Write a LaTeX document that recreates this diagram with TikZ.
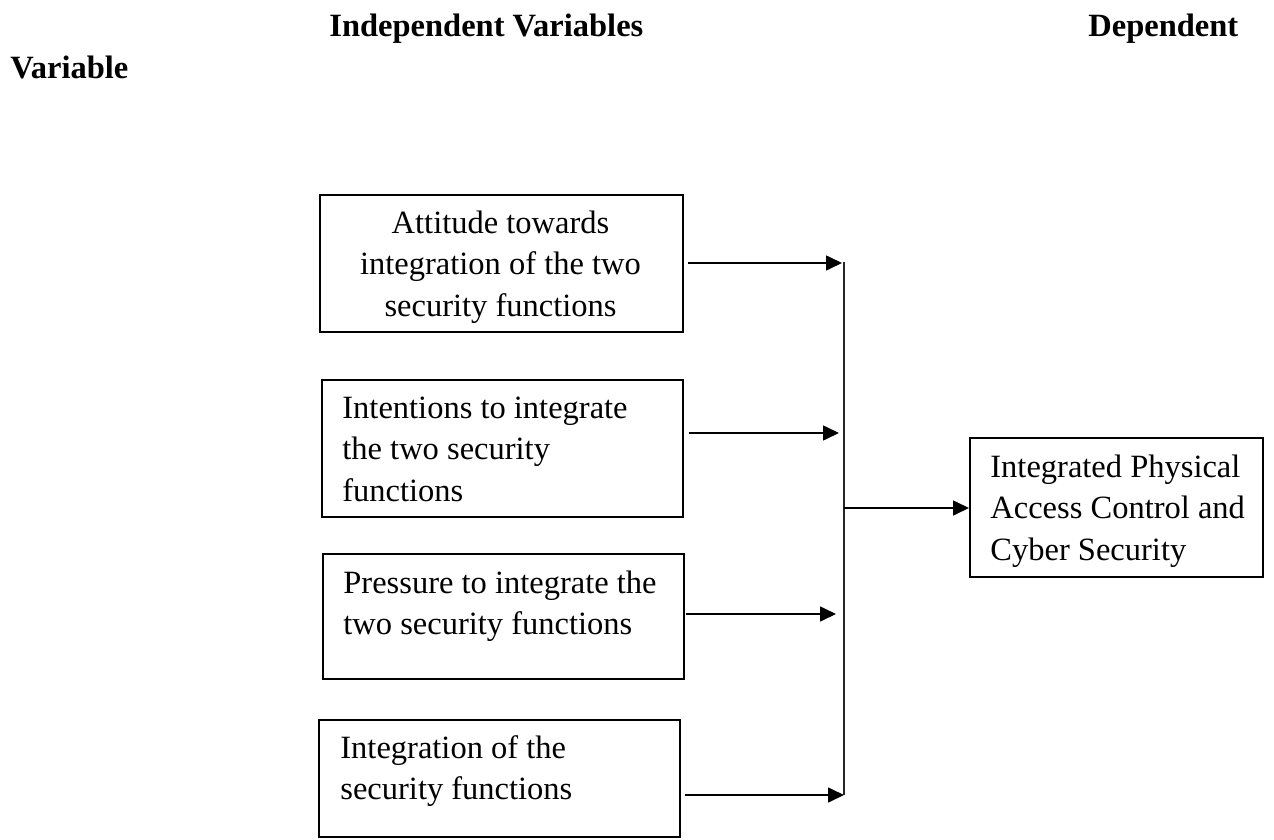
\documentclass[tikz,border=0pt]{standalone}
\usepackage{fontspec}
\setmainfont{Liberation Serif}
\usetikzlibrary{arrows.meta}
\begin{document}
\begin{tikzpicture}[x=0.5pt,y=-0.5pt,
  box/.style={draw=black, line width=0.75pt, rectangle, inner sep=0pt, anchor=north west},
  txt/.style={inner sep=0pt, font=\fontsize{16.25pt}{20.75pt}\selectfont},
  hdr/.style={inner sep=0pt, anchor=base west, font=\fontsize{16.25pt}{20.75pt}\selectfont\bfseries},
  arr/.style={line width=0.8pt, -{Triangle[length=8pt,width=7.5pt]}},
  bar/.style={line width=0.55pt, draw=black!85}]
\useasboundingbox (0,0) rectangle (1274,840);
% headers
\node[hdr] (h1) at (329,37) {Independent Variables};
\node[hdr] (h2) at (1088,37) {Dependent};
\node[hdr] (h3) at (10,79) {Variable};
% boxes
\node[box, minimum width=181.5pt, minimum height=68.5pt] (b1) at (319,194) {};
\node[box, minimum width=180.5pt, minimum height=68.5pt] (b2) at (321,379) {};
\node[box, minimum width=180.5pt, minimum height=62.5pt] (b3) at (322,553) {};
\node[box, minimum width=180.5pt, minimum height=58.5pt] (b4) at (318,719) {};
\node[box, minimum width=146.5pt, minimum height=69.5pt] (R) at (969,437) {};
% texts
\node[txt, anchor=base] (t1) at (500.5,233) {\parbox[t]{170pt}{\centering Attitude towards\\integration of the two\\security functions}};
\node[txt, anchor=base west] (t2) at (342,418) {\parbox[t]{165pt}{\raggedright Intentions to integrate\\the two security\\functions}};
\node[txt, anchor=base west] (t3) at (343,593) {\parbox[t]{165pt}{\raggedright Pressure to integrate the\\two security functions}};
\node[txt, anchor=base west] (t4) at (340,758) {\parbox[t]{165pt}{\raggedright Integration of the\\security functions}};
\node[txt, anchor=base west] (tR) at (990,477) {\parbox[t]{140pt}{\raggedright Integrated Physical\\Access Control and\\Cyber Security}};
% connectors
\coordinate (vt) at (844,262);
\coordinate (vb) at (844,795);
\coordinate (p1) at (842,263);
\coordinate (p2) at (839,433);
\coordinate (p3) at (836,614);
\coordinate (p4) at (844,795);
\coordinate (j) at (844,508);
\draw[bar] (vt) -- (vb);
\draw[arr] ([xshift=2pt]b1.east |- p1) -- (p1);
\draw[arr] ([xshift=2.5pt]b2.east |- p2) -- (p2);
\draw[arr] ([xshift=0.5pt]b3.east |- p3) -- (p3);
\draw[arr] ([xshift=2pt]b4.east |- p4) -- (p4);
\draw[arr] (j) -- (R.west |- j);
\end{tikzpicture}
\end{document}
